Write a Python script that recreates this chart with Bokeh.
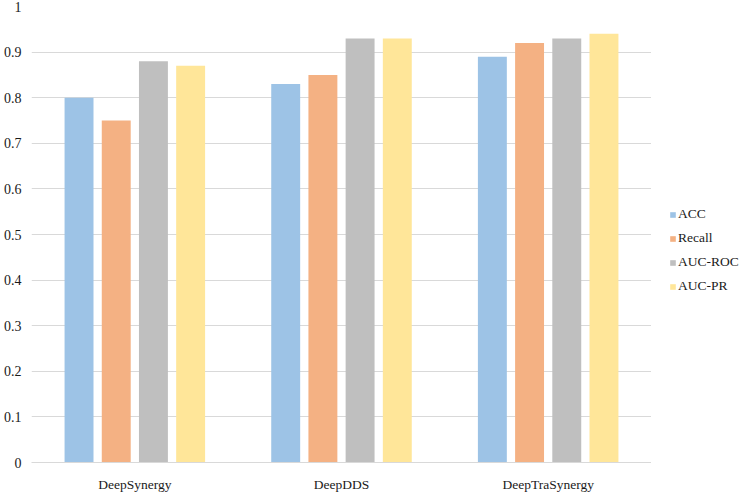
from bokeh.plotting import figure
from bokeh.models import ColumnDataSource, FactorRange, Legend, LegendItem, FixedTicker, Range1d
from bokeh.layouts import row
from bokeh.transform import dodge
from bokeh.embed import file_html
from bokeh.resources import INLINE

models = ["DeepSynergy", "DeepDDS", "DeepTraSynergy"]
metrics = ["ACC", "Recall", "AUC-ROC", "AUC-PR"]
acc = [0.80, 0.83, 0.89]
recall = [0.75, 0.85, 0.92]
auc_roc = [0.88, 0.93, 0.93]
auc_pr = [0.87, 0.93, 0.94]
colors = ["#9DC3E6", "#F4B183", "#BFBFBF", "#FFE699"]
y_ticks = [0, 0.1, 0.2, 0.3, 0.4, 0.5, 0.6, 0.7, 0.8, 0.9, 1.0]
y_tick_labels = ["0", "0.1", "0.2", "0.3", "0.4", "0.5", "0.6", "0.7", "0.8", "0.9", "1"]

source = ColumnDataSource(dict(model=models, ACC=acc, Recall=recall, AUC_ROC=auc_roc, AUC_PR=auc_pr))
cols = ["ACC", "Recall", "AUC_ROC", "AUC_PR"]
offsets = [-0.27, -0.09, 0.09, 0.27]

FONT = "Liberation Serif"
TXT = "#1a1a1a"

p = figure(x_range=FactorRange(*models, range_padding=0), y_range=(0, 1.0),
           frame_width=620, frame_height=456, output_backend="svg", toolbar_location=None,
           min_border_left=25, min_border_top=6, min_border_bottom=21, min_border_right=0)
p.outline_line_color = None

for c, off, col in zip(cols, offsets, colors):
    p.vbar(x=dodge("model", off, range=p.x_range), top=c, width=0.14, source=source,
           fill_color=col, line_color=None)

p.xgrid.grid_line_color = None
p.ygrid.grid_line_color = "#D9D9D9"
p.ygrid.grid_line_width = 1

p.yaxis.ticker = FixedTicker(ticks=y_ticks)
p.yaxis.major_label_overrides = {t: l for t, l in zip(y_ticks, y_tick_labels)}
p.yaxis.axis_line_color = None
p.yaxis.major_tick_line_color = None
p.yaxis.minor_tick_line_color = None
p.yaxis.major_label_standoff = 4

p.xaxis.axis_line_color = "#D9D9D9"
p.xaxis.major_tick_line_color = None
p.xaxis.minor_tick_line_color = None
p.xaxis.major_label_standoff = 8

for ax, fs in ((p.xaxis, "13.5px"), (p.yaxis, "14px")):
    ax.major_label_text_font = FONT
    ax.major_label_text_font_size = fs
    ax.major_label_text_color = TXT

# legend panel
q = figure(width=91, height=483, x_range=Range1d(0, 1), y_range=Range1d(0, 1),
           output_backend="svg", toolbar_location=None, min_border=0)
q.axis.visible = False
q.grid.visible = False
q.outline_line_color = None

items = []
for col, name in zip(colors, metrics):
    # placeholder renderer kept outside the visible range; only its legend swatch shows
    r = q.vbar(x=[5], top=[5], bottom=[4], width=0.1, fill_color=col, line_color=None)
    items.append(LegendItem(label=name, renderers=[r]))

legend = Legend(items=items, location=(18, 155))
legend.label_text_font = FONT
legend.label_text_font_size = "13.5px"
legend.label_text_color = TXT
legend.glyph_width = 7
legend.glyph_height = 7
legend.label_standoff = 2
legend.label_height = 20
legend.spacing = 4
legend.padding = 0
legend.margin = 0
legend.border_line_color = None
legend.background_fill_alpha = 0
q.add_layout(legend)

layout = row(p, q, spacing=0)
open("out.html", "w").write(file_html(layout, INLINE))
